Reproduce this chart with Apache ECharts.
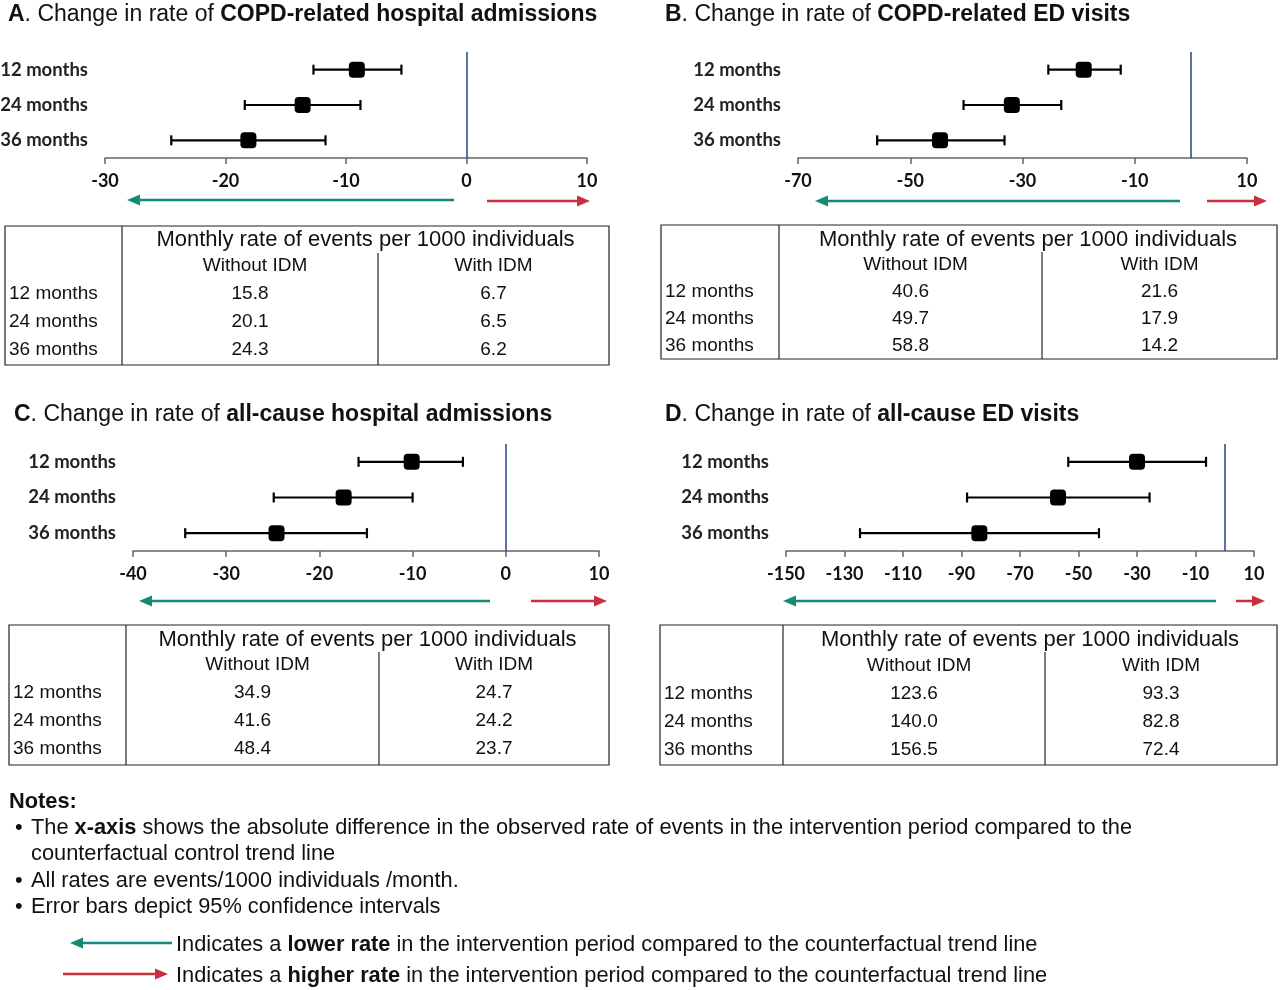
<!DOCTYPE html>
<html>
<head>
<meta charset="utf-8">
<script src="https://cdn.jsdelivr.net/npm/echarts@6/dist/echarts.min.js"></script>
<style>
  html, body { margin: 0; padding: 0; background: #fff; }
  #main { width: 1280px; height: 990px; }
</style>
</head>
<body>
<div id="main"></div>
<script>
// rows shared by every panel
const rows = ['12 months', '24 months', '36 months'];

// A. COPD-related hospital admissions
const aEst = [-9.1, -13.6, -18.1];
const aLow = [-12.7, -18.4, -24.5];
const aHigh = [-5.4, -8.8, -11.7];
const aTicks = [-30, -20, -10, 0, 10];
const aWithout = ['15.8', '20.1', '24.3'];
const aWith = ['6.7', '6.5', '6.2'];

// B. COPD-related ED visits
const bEst = [-19.1, -31.9, -44.7];
const bLow = [-25.4, -40.5, -55.9];
const bHigh = [-12.5, -23.1, -33.2];
const bTicks = [-70, -50, -30, -10, 10];
const bWithout = ['40.6', '49.7', '58.8'];
const bWith = ['21.6', '17.9', '14.2'];

// C. all-cause hospital admissions
const cEst = [-10.1, -17.4, -24.6];
const cLow = [-15.8, -24.9, -34.4];
const cHigh = [-4.6, -10.0, -14.9];
const cTicks = [-40, -30, -20, -10, 0, 10];
const cWithout = ['34.9', '41.6', '48.4'];
const cWith = ['24.7', '24.2', '23.7'];

// D. all-cause ED visits
const dEst = [-30.0, -57.0, -83.9];
const dLow = [-53.5, -88.1, -124.7];
const dHigh = [-6.4, -25.7, -43.0];
const dTicks = [-150, -130, -110, -90, -70, -50, -30, -10, 10];
const dWithout = ['123.6', '140.0', '156.5'];
const dWith = ['93.3', '82.8', '72.4'];

const tableHeader = 'Monthly rate of events per 1000 individuals';
const colHeaders = ['Without IDM', 'With IDM'];

const TEAL = '#17897a';
const RED = '#c9303e';
const FONT = 'Liberation Sans';

// 面板布局
const panels = [
  {
    title: '{b|A}{n|. Change in rate of }{b|COPD-related hospital admissions}',
    titlePos: [8, 15],
    est: aEst, low: aLow, high: aHigh, ticks: aTicks, without: aWithout, withIdm: aWith,
    grid: { left: 105, top: 52, width: 482, height: 106 },
    teal: [454, 127, 200], red: [487, 590, 201],
    table: { x: 5, y: 226, w: 604, h: 139, c1: 122, c2: 378, d2: 253, hy: 239, sy: 266, ry: [294, 322, 350] }
  },
  {
    title: '{b|B}{n|. Change in rate of }{b|COPD-related ED visits}',
    titlePos: [665, 15],
    est: bEst, low: bLow, high: bHigh, ticks: bTicks, without: bWithout, withIdm: bWith,
    grid: { left: 798, top: 52, width: 449, height: 106 },
    teal: [1180, 815, 201], red: [1207, 1267, 201],
    table: { x: 661, y: 225, w: 616, h: 134, c1: 779, c2: 1042, d2: 252, hy: 239, sy: 265, ry: [292, 319, 346] }
  },
  {
    title: '{b|C}{n|. Change in rate of }{b|all-cause hospital admissions}',
    titlePos: [14, 415],
    est: cEst, low: cLow, high: cHigh, ticks: cTicks, without: cWithout, withIdm: cWith,
    grid: { left: 133, top: 444, width: 466, height: 107 },
    teal: [490, 139, 601], red: [531, 607, 601],
    table: { x: 9, y: 625, w: 600, h: 140, c1: 126, c2: 379, d2: 652, hy: 639, sy: 665, ry: [693, 721, 749] }
  },
  {
    title: '{b|D}{n|. Change in rate of }{b|all-cause ED visits}',
    titlePos: [665, 415],
    est: dEst, low: dLow, high: dHigh, ticks: dTicks, without: dWithout, withIdm: dWith,
    grid: { left: 786, top: 444, width: 468, height: 107 },
    teal: [1216, 783, 601], red: [1236, 1265, 601],
    table: { x: 660, y: 625, w: 617, h: 140, c1: 783, c2: 1045, d2: 652, hy: 639, sy: 666, ry: [694, 722, 750] }
  }
];

function richFor(size) {
  return {
    n: { fontFamily: FONT, fontSize: size, fill: '#111' },
    b: { fontFamily: FONT, fontSize: size, fontWeight: 'bold', fill: '#111' }
  };
}

function txt(x, y, text, align, size) {
  return {
    type: 'text', x: x, y: y, silent: true,
    style: {
      text: text, fontFamily: FONT, fontSize: size, fill: '#111',
      align: align, verticalAlign: 'middle',
      textAlign: align, textVerticalAlign: 'middle',
      rich: richFor(size)
    }
  };
}

function arrow(x1, x2, y, color) {
  const dir = x2 > x1 ? 1 : -1;
  const hl = 13, hw = 5.5;
  return [
    { type: 'line', silent: true, shape: { x1: x1, y1: y, x2: x2 - dir * hl, y2: y }, style: { stroke: color, lineWidth: 2.5 } },
    { type: 'polygon', silent: true, shape: { points: [[x2, y], [x2 - dir * hl, y - hw], [x2 - dir * hl, y + hw]] }, style: { fill: color } }
  ];
}

function table(t, p) {
  const els = [];
  const ls = { stroke: '#222', lineWidth: 1.2 };
  const right = t.x + t.w;
  const m2 = (t.c1 + t.c2) / 2;
  const m3 = (t.c2 + right) / 2;
  els.push({ type: 'rect', silent: true, shape: { x: t.x, y: t.y, width: t.w, height: t.h }, style: { fill: 'none', stroke: '#222', lineWidth: 1.2 } });
  els.push({ type: 'line', silent: true, shape: { x1: t.c1, y1: t.y, x2: t.c1, y2: t.y + t.h }, style: ls });
  els.push({ type: 'line', silent: true, shape: { x1: t.c2, y1: t.d2, x2: t.c2, y2: t.y + t.h }, style: ls });
  els.push(txt((t.c1 + right) / 2, t.hy + 1, tableHeader, 'center', 22));
  els.push(txt(m2 + 5, t.sy, colHeaders[0], 'center', 19));
  els.push(txt(m3, t.sy, colHeaders[1], 'center', 19));
  rows.forEach(function (r, i) {
    els.push(txt(t.x + 4, t.ry[i], r, 'left', 19));
    els.push(txt(m2, t.ry[i], p.without[i], 'center', 19));
    els.push(txt(m3, t.ry[i], p.withIdm[i], 'center', 19));
  });
  return els;
}

// 误差线
function errRender(params, api) {
  const lo = api.coord([api.value(0), api.value(2)]);
  const hi = api.coord([api.value(1), api.value(2)]);
  const style = { stroke: '#000', lineWidth: 2.2 };
  const cap = 5;
  return {
    type: 'group',
    children: [
      { type: 'line', shape: { x1: lo[0], y1: lo[1], x2: hi[0], y2: hi[1] }, style: style },
      { type: 'line', shape: { x1: lo[0], y1: lo[1] - cap, x2: lo[0], y2: lo[1] + cap }, style: style },
      { type: 'line', shape: { x1: hi[0], y1: hi[1] - cap, x2: hi[0], y2: hi[1] + cap }, style: style }
    ]
  };
}

const grids = [], xAxes = [], yAxes = [], series = [];
let graphics = [];

panels.forEach(function (p, k) {
  grids.push(Object.assign({ containLabel: false, outerBoundsMode: 'none' }, p.grid));
  xAxes.push({
    type: 'value', gridIndex: k,
    min: p.ticks[0], max: p.ticks[p.ticks.length - 1],
    axisLine: { show: true, lineStyle: { color: '#666', width: 1.5 } },
    axisTick: { show: true, length: 6, customValues: p.ticks, lineStyle: { color: '#666', width: 1.5 } },
    axisLabel: { customValues: p.ticks, fontFamily: 'Lato', fontWeight: 'bold', fontSize: 18, color: '#111', margin: 14 },
    splitLine: { show: false }
  });
  yAxes.push({
    type: 'category', gridIndex: k, data: rows, inverse: true,
    axisLine: { show: false }, axisTick: { show: false }, splitLine: { show: false },
    axisLabel: { fontFamily: 'Lato', fontWeight: 'bold', fontSize: 18.5, color: '#222', margin: 17 }
  });
  series.push({
    type: 'custom', xAxisIndex: k, yAxisIndex: k,
    renderItem: errRender,
    encode: { x: [0, 1], y: 2 },
    data: p.low.map(function (v, i) { return [v, p.high[i], i]; }),
    silent: true, z: 2
  });
  series.push({
    type: 'scatter', xAxisIndex: k, yAxisIndex: k,
    symbol: 'roundRect', symbolSize: 16,
    itemStyle: { color: '#000', opacity: 1 },
    data: p.est.map(function (v, i) { return [v, i]; }),
    silent: true, z: 3,
    markLine: {
      silent: true, symbol: ['none', 'none'],
      label: { show: false },
      lineStyle: { color: '#27408b', type: 'solid', width: 1.5 },
      data: [{ xAxis: 0 }]
    }
  });
  graphics.push(txt(p.titlePos[0], p.titlePos[1], p.title, 'left', 23));
  graphics = graphics.concat(arrow(p.teal[0], p.teal[1], p.teal[2], TEAL));
  graphics = graphics.concat(arrow(p.red[0], p.red[1], p.red[2], RED));
  graphics = graphics.concat(table(p.table, p));
});

// 注释
const NOTE = 21.8;
graphics.push(txt(9, 802, '{b|Notes:}', 'left', NOTE));
[828, 881, 907].forEach(function (y) { graphics.push(txt(15, y, '•', 'left', NOTE)); });
graphics.push(txt(31, 828, '{n|The }{b|x-axis}{n| shows the absolute difference in the observed rate of events in the intervention period compared to the}', 'left', NOTE));
graphics.push(txt(31, 854, 'counterfactual control trend line', 'left', NOTE));
graphics.push(txt(31, 881, 'All rates are events/1000 individuals /month.', 'left', NOTE));
graphics.push(txt(31, 907, 'Error bars depict 95% confidence intervals', 'left', NOTE));
graphics = graphics.concat(arrow(172, 70, 943, TEAL));
graphics = graphics.concat(arrow(63, 168, 974, RED));
graphics.push(txt(176, 945, '{n|Indicates a }{b|lower rate}{n| in the intervention period compared to the counterfactual trend line}', 'left', NOTE));
graphics.push(txt(176, 976, '{n|Indicates a }{b|higher rate}{n| in the intervention period compared to the counterfactual trend line}', 'left', NOTE));

let chartDom = document.getElementById('main');
let myChart = echarts.init(chartDom, null, { renderer: 'canvas' });
let option = {
  backgroundColor: '#fff',
  animation: false,
  grid: grids,
  xAxis: xAxes,
  yAxis: yAxes,
  series: series,
  graphic: { elements: graphics }
};
myChart.setOption(option);
</script>
</body>
</html>
